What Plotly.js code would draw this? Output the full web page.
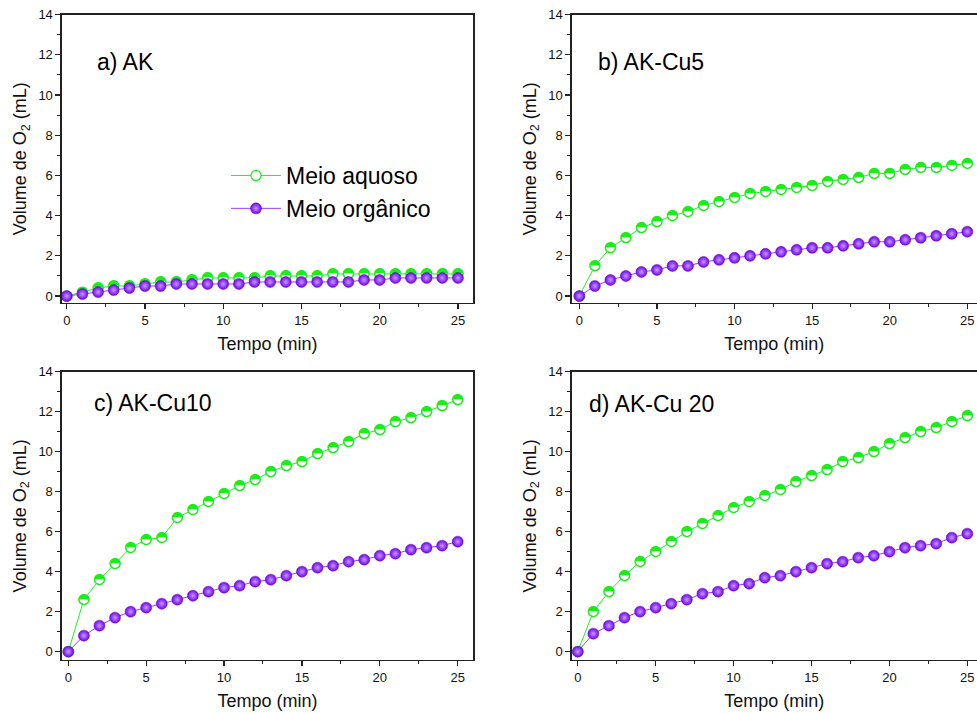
<!DOCTYPE html>
<html>
<head>
<meta charset="utf-8">
<script src="https://cdn.plot.ly/plotly-3.0.1.min.js"></script>
<style>
  html, body { margin: 0; padding: 0; background: #fff; overflow: hidden; }
  #chart { width: 977px; height: 713px; }
</style>
</head>
<body>
<div id="chart"></div>
<script>
// ---- data ----
const tempo = [0,1,2,3,4,5,6,7,8,9,10,11,12,13,14,15,16,17,18,19,20,21,22,23,24,25];

const akAquoso   = [0,0.2,0.4,0.5,0.5,0.6,0.7,0.7,0.8,0.9,0.9,0.9,0.9,1.0,1.0,1.0,1.0,1.1,1.1,1.1,1.1,1.1,1.1,1.1,1.1,1.1];
const akOrganico = [0,0.1,0.2,0.3,0.4,0.5,0.5,0.6,0.6,0.6,0.6,0.6,0.7,0.7,0.7,0.7,0.7,0.7,0.7,0.8,0.8,0.9,0.9,0.9,0.9,0.9];

const cu5Aquoso   = [0,1.5,2.4,2.9,3.4,3.7,4.0,4.2,4.5,4.7,4.9,5.1,5.2,5.3,5.4,5.5,5.7,5.8,5.9,6.1,6.1,6.3,6.4,6.4,6.5,6.6];
const cu5Organico = [0,0.5,0.8,1.0,1.2,1.3,1.5,1.5,1.7,1.8,1.9,2.0,2.1,2.2,2.3,2.4,2.4,2.5,2.6,2.7,2.7,2.8,2.9,3.0,3.1,3.2];

const cu10Aquoso   = [0,2.6,3.6,4.4,5.2,5.6,5.7,6.7,7.1,7.5,7.9,8.3,8.6,9.0,9.3,9.5,9.9,10.2,10.5,10.9,11.1,11.5,11.7,12.0,12.3,12.6];
const cu10Organico = [0,0.8,1.3,1.7,2.0,2.2,2.4,2.6,2.8,3.0,3.2,3.3,3.5,3.6,3.8,4.0,4.2,4.3,4.5,4.6,4.8,4.9,5.1,5.2,5.3,5.5];

const cu20Aquoso   = [0,2.0,3.0,3.8,4.5,5.0,5.5,6.0,6.4,6.8,7.2,7.5,7.8,8.1,8.5,8.8,9.1,9.5,9.7,10.0,10.4,10.7,11.0,11.2,11.5,11.8];
const cu20Organico = [0,0.9,1.3,1.7,2.0,2.2,2.4,2.6,2.9,3.0,3.3,3.4,3.7,3.8,4.0,4.2,4.4,4.5,4.7,4.8,5.0,5.2,5.3,5.4,5.7,5.9];

const panelLabels = ["a) AK", "b) AK-Cu5", "c) AK-Cu10", "d) AK-Cu 20"];
const seriesNames = ["Meio aquoso", "Meio orgânico"];
const xTitle = "Tempo (min)";
const yTitle = "Volume de O<sub>2</sub> (mL)";
const yTickVals = [0,2,4,6,8,10,12,14];
const xTickVals = [0,5,10,15,20,25];

// ---- styling ----
const GREEN = "#19ee19";
const GREEN_LINE = "#22ee22";
const PURPLE = "#7300ec";
const PURPLE_LINE = "#9b3dff";
const FONT = "Liberation Sans, Arial, sans-serif";

const panels = [
  {aq: akAquoso,   org: akOrganico},
  {aq: cu5Aquoso,  org: cu5Organico},
  {aq: cu10Aquoso, org: cu10Organico},
  {aq: cu20Aquoso, org: cu20Organico}
];

const traces = [];
panels.forEach((p, i) => {
  const n = i === 0 ? "" : String(i + 1);
  const xa = "x" + n, ya = "y" + n;
  traces.push({
    x: tempo, y: p.aq, xaxis: xa, yaxis: ya,
    type: "scatter", mode: "lines+markers", name: seriesNames[0],
    showlegend: i === 0,
    line: {color: GREEN_LINE, width: 1},
    marker: {size: 10, color: "#ffffff", line: {color: GREEN, width: 1.2}},
    hoverinfo: "skip"
  });
  traces.push({
    x: tempo, y: p.aq, xaxis: xa, yaxis: ya,
    type: "scatter", mode: "text", text: tempo.map(() => "\u25D3"),
    textposition: "middle center", showlegend: false,
    textfont: {family: "DejaVu Sans", size: 14, color: GREEN},
    hoverinfo: "skip"
  });
  traces.push({
    x: tempo, y: p.org, xaxis: xa, yaxis: ya,
    type: "scatter", mode: "lines+markers", name: seriesNames[1],
    showlegend: i === 0,
    line: {color: PURPLE_LINE, width: 1},
    marker: {size: 11, color: PURPLE, line: {color: "#6400d0", width: 0.5},
             gradient: {type: "radial", color: "#c29bff"}},
    hoverinfo: "skip"
  });
});

const xDomL = [0.0632, 0.4844], xDomR = [0.5852, 1.0];
const yDomT = [0.5755, 0.9794], yDomB = [0.0743, 0.4787];
const xRanges = [[-0.32, 25.98], [-0.49, 25.625], [-0.42, 26.0], [-0.385, 25.62]];
const yRanges = [[-0.33, 14], [-0.33, 14], [-0.42, 14], [-0.42, 14]];
const xDoms = [xDomL, xDomR, xDomL, xDomR];
const yDoms = [yDomT, yDomT, yDomB, yDomB];

function xAxis(i) {
  return {
    domain: xDoms[i], range: xRanges[i], anchor: "y" + (i === 0 ? "" : i + 1),
    tickvals: xTickVals, ticks: "outside", ticklen: 5, tickwidth: 1.2, tickcolor: "#222",
    minor: {dtick: 2.5, tick0: 0, ticks: "outside", ticklen: 3, tickwidth: 1, tickcolor: "#222"},
    showline: true, linecolor: "#222", linewidth: 1.3, mirror: true,
    showgrid: false, zeroline: false,
    tickfont: {family: FONT, size: 13, color: "#111"},
    title: {text: xTitle, font: {family: FONT, size: 18, color: "#111"}, standoff: 10},
    fixedrange: true
  };
}
function yAxis(i) {
  return {
    domain: yDoms[i], range: yRanges[i], anchor: "x" + (i === 0 ? "" : i + 1),
    tickvals: yTickVals, ticks: "outside", ticklen: 5, tickwidth: 1.2, tickcolor: "#222",
    minor: {dtick: 1, tick0: 0, ticks: "outside", ticklen: 3, tickwidth: 1, tickcolor: "#222"},
    showline: true, linecolor: "#222", linewidth: 1.3, mirror: (i % 2 === 0),
    showgrid: false, zeroline: false,
    tickfont: {family: FONT, size: 13, color: "#111"},
    title: {text: yTitle, font: {family: FONT, size: 18, color: "#111"}, standoff: 7},
    fixedrange: true
  };
}

const labelPos = [[0.081, 0.836], [0.06, 0.836], [0.073, 0.89], [0.037, 0.888]];
const annotations = panelLabels.map((t, i) => ({
  text: t, showarrow: false,
  xref: "x" + (i === 0 ? "" : i + 1) + " domain",
  yref: "y" + (i === 0 ? "" : i + 1) + " domain",
  x: labelPos[i][0], y: labelPos[i][1], xanchor: "left", yanchor: "middle",
  font: {family: FONT, size: 23, color: "#000"}
}));

const layout = {
  width: 977, height: 713,
  margin: {l: 0, r: 0, t: 0, b: 0},
  paper_bgcolor: "#fff", plot_bgcolor: "#fff",
  showlegend: true,
  legend: {
    x: 226 / 977, y: 1 - 154 / 713, xanchor: "left", yanchor: "top",
    bgcolor: "rgba(0,0,0,0)", borderwidth: 0,
    font: {family: FONT, size: 23, color: "#000"},
    itemwidth: 50, tracegroupgap: 0
  },
  annotations: annotations
};
[0,1,2,3].forEach(i => {
  const n = i === 0 ? "" : String(i + 1);
  layout["xaxis" + n] = xAxis(i);
  layout["yaxis" + n] = yAxis(i);
});

Plotly.newPlot("chart", traces, layout, {staticPlot: true, displayModeBar: false});
</script>
</body>
</html>
